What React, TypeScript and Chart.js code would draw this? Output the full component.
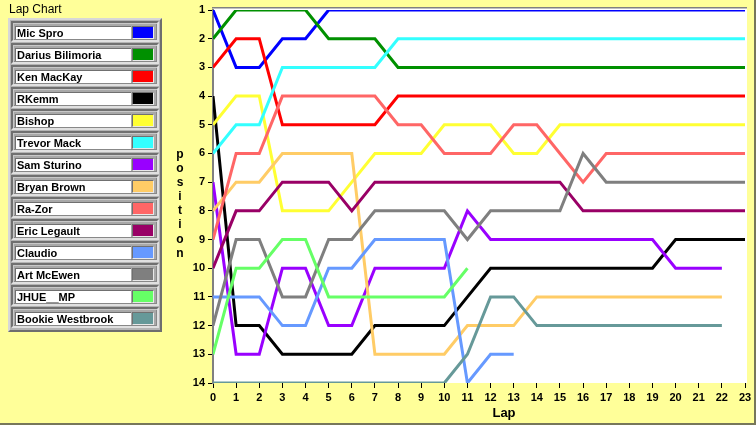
import React, { useEffect, useRef } from "react";
import { Chart, registerables } from "chart.js";

Chart.register(...registerables);

const FONT = "'Liberation Sans', Arial, sans-serif";

const drivers = [
  "Mic Spro",
  "Darius Bilimoria",
  "Ken MacKay",
  "RKemm",
  "Bishop",
  "Trevor Mack",
  "Sam Sturino",
  "Bryan Brown",
  "Ra-Zor",
  "Eric Legault",
  "Claudio",
  "Art McEwen",
  "JHUE__MP",
  "Bookie Westbrook",
];

const driverColors = [
  "#0000FF",
  "#009000",
  "#FF0000",
  "#000000",
  "#FFFF33",
  "#33FFFF",
  "#9900FF",
  "#FFCC66",
  "#FF6666",
  "#990066",
  "#6699FF",
  "#7F7F7F",
  "#66FF66",
  "#669999",
];

const lapTicks = [0, 1, 2, 3, 4, 5, 6, 7, 8, 9, 10, 11, 12, 13, 14, 15, 16, 17, 18, 19, 20, 21, 22, 23];
const positionTicks = [1, 2, 3, 4, 5, 6, 7, 8, 9, 10, 11, 12, 13, 14];

// position of each driver at lap 0, 1, 2, ...
const micSpro = [1, 3, 3, 2, 2, 1, 1, 1, 1, 1, 1, 1, 1, 1, 1, 1, 1, 1, 1, 1, 1, 1, 1, 1];
const dariusBilimoria = [2, 1, 1, 1, 1, 2, 2, 2, 3, 3, 3, 3, 3, 3, 3, 3, 3, 3, 3, 3, 3, 3, 3, 3];
const kenMacKay = [3, 2, 2, 5, 5, 5, 5, 5, 4, 4, 4, 4, 4, 4, 4, 4, 4, 4, 4, 4, 4, 4, 4, 4];
const rKemm = [4, 12, 12, 13, 13, 13, 13, 12, 12, 12, 12, 11, 10, 10, 10, 10, 10, 10, 10, 10, 9, 9, 9, 9];
const bishop = [5, 4, 4, 8, 8, 8, 7, 6, 6, 6, 5, 5, 5, 6, 6, 5, 5, 5, 5, 5, 5, 5, 5, 5];
const trevorMack = [6, 5, 5, 3, 3, 3, 3, 3, 2, 2, 2, 2, 2, 2, 2, 2, 2, 2, 2, 2, 2, 2, 2, 2];
const samSturino = [7, 13, 13, 10, 10, 12, 12, 10, 10, 10, 10, 8, 9, 9, 9, 9, 9, 9, 9, 9, 10, 10, 10];
const bryanBrown = [8, 7, 7, 6, 6, 6, 6, 13, 13, 13, 13, 12, 12, 12, 11, 11, 11, 11, 11, 11, 11, 11, 11];
const raZor = [9, 6, 6, 4, 4, 4, 4, 4, 5, 5, 6, 6, 6, 5, 5, 6, 7, 6, 6, 6, 6, 6, 6, 6];
const ericLegault = [10, 8, 8, 7, 7, 7, 8, 7, 7, 7, 7, 7, 7, 7, 7, 7, 8, 8, 8, 8, 8, 8, 8, 8];
const claudio = [11, 11, 11, 12, 12, 10, 10, 9, 9, 9, 9, 14, 13, 13];
const artMcEwen = [12, 9, 9, 11, 11, 9, 9, 8, 8, 8, 8, 9, 8, 8, 8, 8, 6, 7, 7, 7, 7, 7, 7, 7];
const jhueMp = [13, 10, 10, 9, 9, 11, 11, 11, 11, 11, 11, 10];
const bookieWestbrook = [14, 14, 14, 14, 14, 14, 14, 14, 14, 14, 14, 13, 11, 11, 12, 12, 12, 12, 12, 12, 12, 12, 12];

const series = [
  micSpro,
  dariusBilimoria,
  kenMacKay,
  rKemm,
  bishop,
  trevorMack,
  samSturino,
  bryanBrown,
  raZor,
  ericLegault,
  claudio,
  artMcEwen,
  jhueMp,
  bookieWestbrook,
];

const plotBackground = {
  id: "plotBackground",
  beforeDraw(chart: any) {
    const { ctx, chartArea } = chart;
    const { left, right, top, bottom } = chartArea;
    ctx.save();
    ctx.fillStyle = "#FFFFFF";
    ctx.fillRect(left, top - 2, right - left + 2, bottom - top + 2);
    ctx.fillStyle = "#808080";
    ctx.fillRect(left - 1, top - 3, right - left + 3, 1.5);
    ctx.restore();
  },
};

function LapChart() {
  const ref = useRef<HTMLCanvasElement | null>(null);
  useEffect(() => {
    if (!ref.current) return;
    const tickFont = { family: FONT, size: 11, weight: "bold" as const };
    const chart = new Chart(ref.current, {
      type: "line",
      data: {
        datasets: series.map((vals, i) => ({
          label: drivers[i],
          data: vals.map((v, lap) => ({ x: lapTicks[lap], y: v })),
          borderColor: driverColors[i],
          backgroundColor: driverColors[i],
          borderWidth: 3,
          pointRadius: 0,
          tension: 0,
          fill: false,
          order: -i,
        })),
      },
      options: {
        animation: false,
        responsive: false,
        devicePixelRatio: 1,
        layout: { padding: { left: 165, right: 11, top: 10, bottom: 0 } },
        plugins: { legend: { display: false }, tooltip: { enabled: false } },
        events: [],
        scales: {
          x: {
            type: "linear",
            min: 0,
            max: 23,
            afterBuildTicks: (s: any) => {
              s.ticks = lapTicks.map((v) => ({ value: v }));
            },
            afterFit: (s: any) => {
              s.height = 42;
            },
            ticks: { autoSkip: false, maxRotation: 0, font: tickFont, color: "#000", padding: 3 },
            grid: { display: true, drawOnChartArea: false, drawTicks: true, tickLength: 5, color: "#000" },
            border: { display: false },
          },
          y: {
            type: "linear",
            min: 1,
            max: 14,
            reverse: true,
            afterBuildTicks: (s: any) => {
              s.ticks = positionTicks.map((v) => ({ value: v }));
            },
            afterFit: (s: any) => {
              s.width = 48;
            },
            ticks: { autoSkip: false, font: tickFont, color: "#000", padding: 3 },
            grid: { display: true, drawOnChartArea: false, drawTicks: true, tickLength: 5, color: "#000" },
            border: { display: true, color: "#808080", width: 2 },
          },
        },
      },
      plugins: [plotBackground],
    });
    return () => chart.destroy();
  }, []);
  return (
    <canvas
      ref={ref}
      width={756}
      height={425}
      style={{ position: "absolute", left: 0, top: 0, width: 756, height: 425 }}
    />
  );
}

function Legend() {
  return (
    <>
      <div
        style={{
          position: "absolute",
          left: 9,
          top: 2,
          font: `12px ${FONT}`,
          lineHeight: "14px",
          color: "#000",
        }}
      >
        Lap Chart
      </div>
      <div
        style={{
          position: "absolute",
          left: 8,
          top: 18,
          width: 154,
          height: 314,
          boxSizing: "border-box",
          background: "#B4B4B4",
          borderStyle: "solid",
          borderWidth: 2,
          borderColor: "#D8D8D8 #6E6E6E #6E6E6E #D8D8D8",
        }}
      />
      {drivers.map((name, i) => (
        <React.Fragment key={name}>
          <div
            style={{
              position: "absolute",
              left: 11,
              top: 21 + i * 22,
              width: 148,
              height: 21,
              boxSizing: "border-box",
              background: "#A8A8A8",
              borderStyle: "solid",
              borderWidth: 2,
              borderColor: "#707070 #E0E0E0 #E0E0E0 #707070",
              boxShadow: "inset 1px 1px 0 #C8C8C8, inset -1px -1px 0 #888888",
            }}
          />
          <div
            style={{
              position: "absolute",
              left: 15,
              top: 26 + i * 22,
              width: 116,
              height: 13,
              boxSizing: "border-box",
              background: "#FFFFFF",
              borderLeft: "1px solid #707070",
              borderTop: "1px solid #707070",
              font: `bold 11px ${FONT}`,
              lineHeight: "12px",
              paddingLeft: 1,
              color: "#000",
              whiteSpace: "nowrap",
              overflow: "hidden",
            }}
          >
            {name}
          </div>
          <div
            style={{
              position: "absolute",
              left: 132,
              top: 26 + i * 22,
              width: 22,
              height: 13,
              boxSizing: "border-box",
              background: driverColors[i],
              borderStyle: "solid",
              borderWidth: 1,
              borderColor: "#707070 #E8E8E8 #E8E8E8 #707070",
            }}
          />
        </React.Fragment>
      ))}
    </>
  );
}

export default function App() {
  const letters = "position".split("");
  return (
    <div
      style={{
        position: "fixed",
        left: 0,
        top: 0,
        width: 756,
        height: 425,
        background: "#FFFF99",
        overflow: "hidden",
      }}
    >
      <LapChart />
      <Legend />
      <div
        style={{
          position: "absolute",
          left: 172,
          top: 147,
          width: 16,
          textAlign: "center",
          font: `bold 12px ${FONT}`,
          lineHeight: "14.1px",
          color: "#000",
        }}
      >
        {letters.map((c, i) => (
          <div key={i}>{c}</div>
        ))}
      </div>
      <div
        style={{
          position: "absolute",
          left: 484,
          top: 405,
          width: 40,
          textAlign: "center",
          font: `bold 13px ${FONT}`,
          lineHeight: "15px",
          color: "#000",
        }}
      >
        Lap
      </div>
      <div style={{ position: "absolute", right: 0, top: 0, width: 2, height: 425, background: "#77775A" }} />
      <div style={{ position: "absolute", left: 0, bottom: 0, width: 756, height: 2, background: "#77775A" }} />
    </div>
  );
}
